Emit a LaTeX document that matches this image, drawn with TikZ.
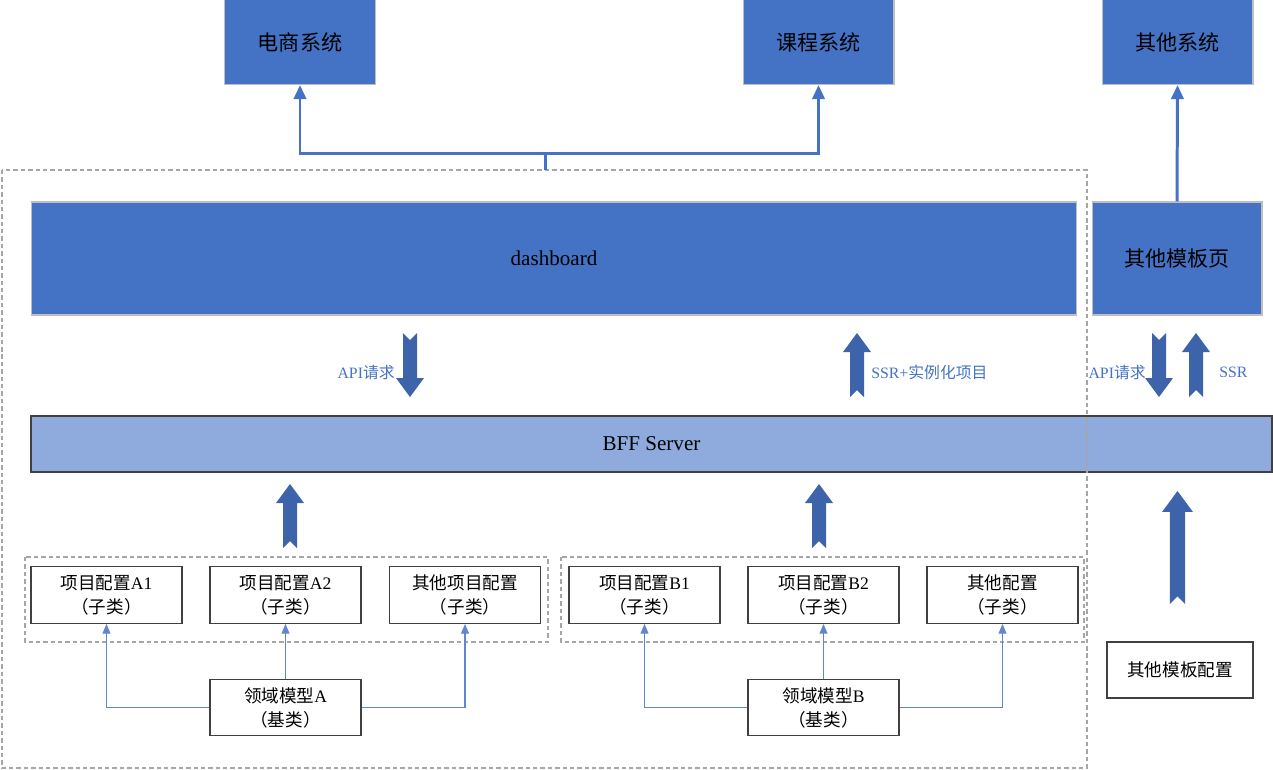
\documentclass[tikz,border=0pt]{standalone}
\usepackage{fontspec}
\setmainfont{Liberation Serif}
\newfontfamily\cjk{Noto Sans CJK SC}
\usetikzlibrary{arrows.meta}
\tikzset{>={Triangle[width=7pt,length=8pt]}}
\definecolor{sysblue}{RGB}{68,114,196}
\definecolor{bffblue}{RGB}{143,170,220}
\definecolor{arrowblue}{RGB}{61,100,171}
\definecolor{framegray}{RGB}{166,166,166}
\definecolor{boxedge}{RGB}{64,64,64}
\tikzstyle{sysbox}=[fill=sysblue,draw=black!25,line width=0.6pt,minimum width=3.02cm,minimum height=1.7cm,font=\fontsize{12}{14}\selectfont]
\tikzstyle{pagebox}=[fill=sysblue,draw=black!25,line width=0.6pt,minimum height=2.26cm,font=\fontsize{12}{14}\selectfont]
\tikzstyle{bffbar}=[fill=bffblue,draw=boxedge,line width=0.8pt,minimum width=24.82cm,minimum height=1.12cm,font=\fontsize{12}{14}\selectfont]
\tikzstyle{cfgbox}=[draw=boxedge,line width=0.8pt,minimum width=3.02cm,minimum height=1.13cm,align=center,font=\fontsize{10}{13.6}\selectfont]
\tikzstyle{groupframe}=[draw=framegray,line width=0.6pt,dash pattern=on 2.5pt off 1.7pt]
\tikzstyle{sysline}=[draw=sysblue,line width=1.7pt]
\tikzstyle{inheritline}=[draw=sysblue!85,line width=0.7pt,>={Triangle[width=4.5pt,length=5.5pt]}]
\tikzstyle{blockfill}=[fill=arrowblue]
\tikzstyle{arrowlabel}=[text=sysblue,inner sep=0pt,font=\fontsize{9}{11}\selectfont]
% block arrows: centre x, tip y, tail y, size
\newcommand{\blockup}[4]{%
  \fill[blockfill] ({#1-7*#4},#3) -- ({#1-7*#4},{#2+19*#4}) -- ({#1-14*#4},{#2+19*#4}) -- (#1,#2)
    -- ({#1+14*#4},{#2+19*#4}) -- ({#1+7*#4},{#2+19*#4}) -- ({#1+7*#4},#3) -- (#1,{#3-7*#4}) -- cycle;}
% centre x, tail y, tip y, size
\newcommand{\blockdown}[4]{%
  \fill[blockfill] ({#1-7*#4},#2) -- (#1,{#2+7*#4}) -- ({#1+7*#4},#2) -- ({#1+7*#4},{#3-19*#4})
    -- ({#1+14*#4},{#3-19*#4}) -- (#1,#3) -- ({#1-14*#4},{#3-19*#4}) -- ({#1-7*#4},{#3-19*#4}) -- cycle;}

\begin{document}
\begin{tikzpicture}[x=0.02cm,y=-0.02cm]
    \useasboundingbox (0,0) rectangle (1273,769);

    \node[sysbox] (shop) at (300,42) {\cjk 电商系统};
    \node[sysbox] (course) at (818.5,42) {\cjk 课程系统};
    \node[sysbox] (other) at (1177.5,42) {\cjk 其他系统};

    \node[pagebox,minimum width=20.92cm] (dash) at (554,258.5) {dashboard};
    \node[pagebox,minimum width=3.4cm] (tplpage) at (1177,258.5) {\cjk 其他模板页};

    \node[bffbar] (bff) at (651.5,444) {BFF Server};

    \draw[groupframe] (2,170) rectangle (1087,768);
    \draw[groupframe] (25,557) rectangle (548,642);
    \draw[groupframe] (561,557) rectangle (1084,642);

    \coordinate (join) at (545,170);
    \coordinate (fork) at (545,153);
    \draw[sysline] (join) -- (fork);
    \draw[sysline,->] (fork) -| (shop.south);
    \draw[sysline,->] (fork) -| (course.south);
    \draw[sysline,->] (tplpage.north) -- (other.south);

    \blockdown{410}{333}{397}{1}
    \blockup{857}{333}{397}{1}
    \blockdown{1159}{333}{397}{1}
    \blockup{1196}{333}{397}{1}
    \node[arrowlabel,anchor=east] (apia) at (395,372) {API{\cjk 请求}};
    \node[arrowlabel,anchor=west] (ssra) at (871,372) {SSR+{\cjk 实例化项目}};
    \node[arrowlabel,anchor=east] (apib) at (1146,372) {API{\cjk 请求}};
    \node[arrowlabel,anchor=west] (ssrb) at (1219,372) {SSR};

    \blockup{290}{484}{548}{1}
    \blockup{819}{484}{548}{1}
    \blockup{1177.5}{491}{604}{1.1}

    \node[cfgbox] (cfga1) at (106.5,595) {{\cjk 项目配置}A1\\{\cjk （子类）}};
    \node[cfgbox] (cfga2) at (285.5,595) {{\cjk 项目配置}A2\\{\cjk （子类）}};
    \node[cfgbox] (cfgax) at (465,595) {{\cjk 其他项目配置}\\{\cjk （子类）}};
    \node[cfgbox] (basea) at (285.5,707.5) {{\cjk 领域模型}A\\{\cjk （基类）}};

    \node[cfgbox] (cfgb1) at (644.5,595) {{\cjk 项目配置}B1\\{\cjk （子类）}};
    \node[cfgbox] (cfgb2) at (823.5,595) {{\cjk 项目配置}B2\\{\cjk （子类）}};
    \node[cfgbox] (cfgbx) at (1002.5,595) {{\cjk 其他配置}\\{\cjk （子类）}};
    \node[cfgbox] (baseb) at (823.5,707.5) {{\cjk 领域模型}B\\{\cjk （基类）}};

    \node[cfgbox,minimum width=2.92cm,minimum height=1.12cm] (tplcfg) at (1180,670) {\cjk 其他模板配置};

    \draw[inheritline,->] (basea) -- (cfga2);
    \draw[inheritline,->] (basea.west) -| (cfga1.south);
    \draw[inheritline,->] (basea.east) -| (cfgax.south);
    \draw[inheritline,->] (baseb) -- (cfgb2);
    \draw[inheritline,->] (baseb.west) -| (cfgb1.south);
    \draw[inheritline,->] (baseb.east) -| (cfgbx.south);
\end{tikzpicture}
\end{document}
